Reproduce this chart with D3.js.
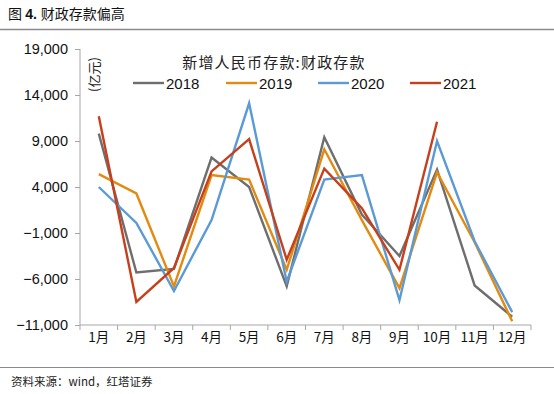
<!DOCTYPE html>
<html><head><meta charset="utf-8">
<script src="https://cdn.jsdelivr.net/npm/d3@7"></script>
<style>body{margin:0;background:#fff}svg{display:block}</style>
</head><body>
<script>
const months = ["1月","2月","3月","4月","5月","6月","7月","8月","9月","10月","11月","12月"];
const yTicks = [-11000,-6000,-1000,4000,9000,14000,19000];
const s2018 = [9800,-5300,-4900,7200,4000,-6800,9400,1000,-3500,5900,-6700,-10100];
const s2019 = [5400,3300,-6800,5300,4800,-5000,8100,400,-7000,5600,-2000,-10600];
const s2020 = [4000,100,-7300,400,13100,-6300,4800,5300,-8300,9000,-1900,-9600];
const s2021 = [11700,-8500,-4800,5700,9200,-3900,6000,1700,-5000,11100,null,null];
const seriesNames = ["2018","2019","2020","2021"];
const colors = ["#6e6e6e","#e38a10","#5b9bd5","#c6401c"];
const series = [s2018,s2019,s2020,s2021];

const W=554,H=394;
const svg=d3.select("body").append("svg").attr("width",W).attr("height",H);
const cjk="'Noto Sans CJK SC','Noto Sans',sans-serif";
const lat="'Liberation Sans',Arial,sans-serif";

const t=svg.append("text").attr("x",8).attr("y",19).attr("font-family",cjk).attr("font-size",14).attr("fill","#111");
t.append("tspan").text("图 ");
t.append("tspan").attr("font-family",lat).attr("font-weight","bold").text("4. ");
t.append("tspan").text("财政存款偏高");
svg.append("line").attr("x1",0).attr("x2",W).attr("y1",29.5).attr("y2",29.5).attr("stroke","#8a8a8a").attr("stroke-width",1.5);
svg.append("line").attr("x1",0).attr("x2",W).attr("y1",367.5).attr("y2",367.5).attr("stroke","#8a8a8a").attr("stroke-width",1.2);
svg.append("text").attr("x",11).attr("y",386).attr("font-family",cjk).attr("font-size",11.5).attr("fill","#222")
  .text("资料来源：wind，红塔证券");

const x=d3.scaleBand().domain(months).range([80,531]);
const y=d3.scaleLinear().domain([-11000,19000]).range([325,49]);

const yAxis=svg.append("g").attr("transform","translate(80,0)")
  .call(d3.axisLeft(y).tickValues(yTicks).tickSize(5).tickFormat(d3.format(",")));
yAxis.selectAll("text").attr("font-family",lat).attr("font-size",14.5).attr("fill","#111").attr("dx",-4);
yAxis.selectAll("line,path").attr("stroke","#a6a6a6");
yAxis.select("path").attr("d","M0,49V325");

const xAxis=svg.append("g").attr("transform","translate(0,325)")
  .call(d3.axisBottom(x).tickSize(0));
xAxis.selectAll(".tick text").attr("font-family",cjk).attr("font-size",13.5).attr("fill","#111").attr("dy",14);
xAxis.select("path").attr("stroke","#a6a6a6").attr("d","M80,0H531");
xAxis.selectAll(".tick line").remove();
const bounds=months.map(m=>x(m)).concat([531]);
svg.append("g").selectAll("line").data(bounds).join("line")
  .attr("x1",d=>d).attr("x2",d=>d).attr("y1",325).attr("y2",330).attr("stroke","#a6a6a6");

const line=d3.line().defined(d=>d!=null).x((d,i)=>x(months[i])+x.bandwidth()/2).y(d=>y(d));
series.forEach((s,k)=>{
  svg.append("path").datum(s).attr("d",line).attr("fill","none").attr("stroke",colors[k]).attr("stroke-width",2.4).attr("stroke-linejoin","miter");
});

svg.append("text").attr("transform","translate(99,92) rotate(-90)").attr("font-family",cjk).attr("font-size",13).attr("fill","#222").text("(亿元)");

svg.append("text").attr("x",274).attr("y",68).attr("text-anchor","middle").attr("font-family",cjk).attr("font-size",15).attr("letter-spacing",1.2).attr("fill","#222")
  .text("新增人民币存款:财政存款");
const lx=[133,226,318,410];
seriesNames.forEach((n,k)=>{
  svg.append("line").attr("x1",lx[k]).attr("x2",lx[k]+31).attr("y1",83).attr("y2",83).attr("stroke",colors[k]).attr("stroke-width",2.4);
  svg.append("text").attr("x",lx[k]+33).attr("y",88.5).attr("font-family",lat).attr("font-size",15).attr("fill","#111").text(n);
});
</script>
</body></html>
